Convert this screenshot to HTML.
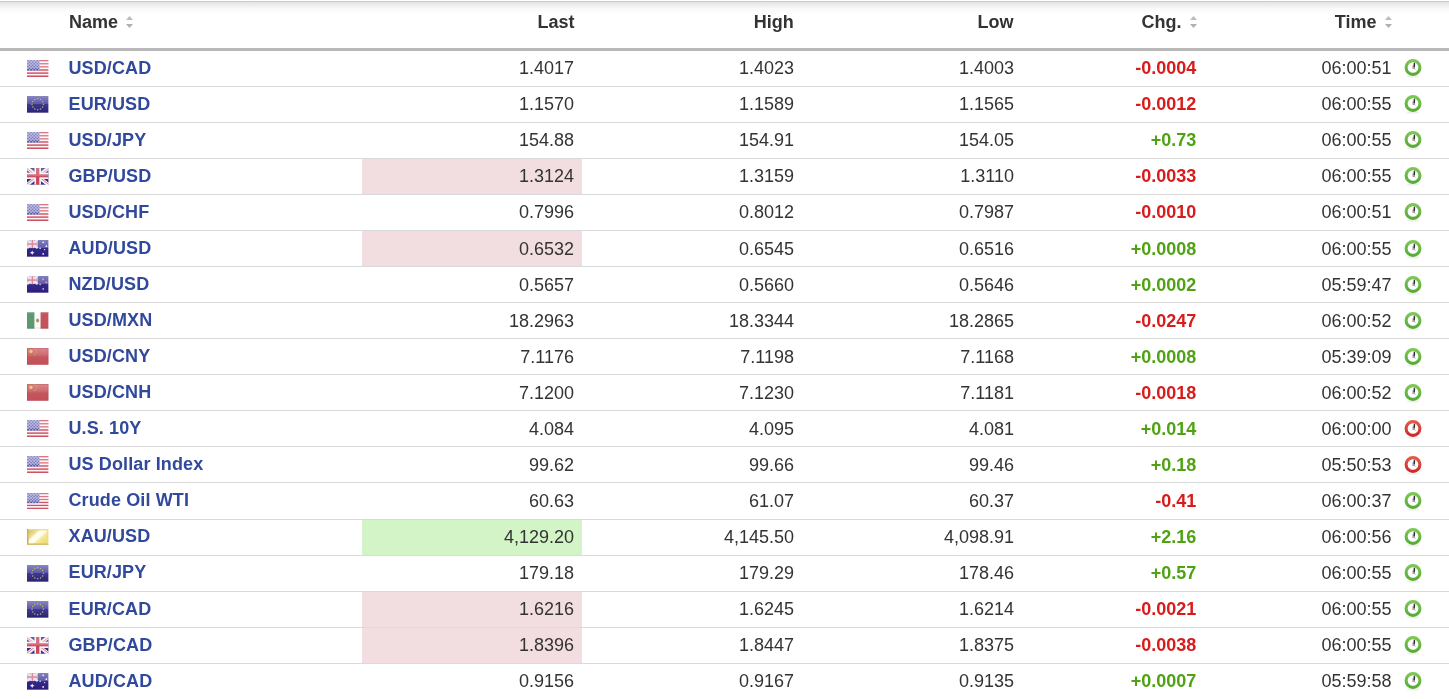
<!DOCTYPE html>
<html><head><meta charset="utf-8"><title>Quotes</title>
<style>
*{margin:0;padding:0;box-sizing:border-box}
html,body{width:1449px;height:699px;overflow:hidden;background:#fff}
body{position:relative;will-change:transform;font-family:"Liberation Sans",sans-serif;font-size:18px;color:#333}
.hdr{position:absolute;left:0;top:0;width:1449px;height:48px;background:linear-gradient(#fff 0,#fff 1px,#cbcbcb 1px,#cbcbcb 2px,#e3e3e3 2px,#f9f9f9 8.5px,#fdfdfd 13px,#fff 15px)}
.hb{position:absolute;left:0;top:48px;width:1449px;height:3px;background:#b8b8b8}
.ht{position:absolute;top:12px;height:21px;line-height:21px;font-weight:bold;color:#333;white-space:nowrap}
.sep{position:absolute;left:0;width:1449px;height:1px;background:#dadada}
.t{position:absolute;height:21px;line-height:21px;white-space:nowrap}
.r{text-align:right}
.nm{font-weight:bold;color:#31499c;letter-spacing:0.12px}
.red{color:#d91b1b;font-weight:bold}
.grn{color:#4fa312;font-weight:bold}
.hl{position:absolute;left:362px;width:220px}
.pk{background:#f2dee0}
.gn{background:#d2f4c6}
.fl,.ck,.srt{position:absolute;display:block}
</style></head><body>
<div class="hdr"></div><div class="hb"></div>

<div class="ht" style="left:69px">Name</div>
<svg class="srt" style="left:126px;top:15.5px" width="7" height="13" viewBox="0 0 7 13"><path d="M3.5,0 L7,4 L0,4 Z" fill="#bdbdbd"/><path d="M0,8 L7,8 L3.5,12 Z" fill="#b0b0b0"/></svg>
<div class="ht r" style="left:274.5px;width:300px;top:12px">Last</div>
<div class="ht r" style="left:493.70000000000005px;width:300px;top:12px">High</div>
<div class="ht r" style="left:713.6px;width:300px;top:12px">Low</div>
<div class="ht r" style="left:881.5px;width:300px;top:12px">Chg.</div>
<svg class="srt" style="left:1189.5px;top:15.5px" width="7" height="13" viewBox="0 0 7 13"><path d="M3.5,0 L7,4 L0,4 Z" fill="#bdbdbd"/><path d="M0,8 L7,8 L3.5,12 Z" fill="#b0b0b0"/></svg>
<div class="ht r" style="left:1076.5px;width:300px;top:12px">Time</div>
<svg class="srt" style="left:1384.5px;top:15.5px" width="7" height="13" viewBox="0 0 7 13"><path d="M3.5,0 L7,4 L0,4 Z" fill="#bdbdbd"/><path d="M0,8 L7,8 L3.5,12 Z" fill="#b0b0b0"/></svg>
<svg class="fl" style="left:27.2px;top:60px" width="21.4" height="17" viewBox="0 0 21 17" preserveAspectRatio="none"><rect x="0" y="0.000" width="21" height="1.565" fill="#cf5262"/><rect x="0" y="1.545" width="21" height="1.565" fill="#fbf5f6"/><rect x="0" y="3.091" width="21" height="1.565" fill="#cf5262"/><rect x="0" y="4.636" width="21" height="1.565" fill="#fbf5f6"/><rect x="0" y="6.182" width="21" height="1.565" fill="#cf5262"/><rect x="0" y="7.727" width="21" height="1.565" fill="#fbf5f6"/><rect x="0" y="9.273" width="21" height="1.565" fill="#cf5262"/><rect x="0" y="10.818" width="21" height="1.565" fill="#fbf5f6"/><rect x="0" y="12.364" width="21" height="1.565" fill="#cf5262"/><rect x="0" y="13.909" width="21" height="1.565" fill="#fbf5f6"/><rect x="0" y="15.455" width="21" height="1.565" fill="#cf5262"/><rect x="0" y="0" width="11.9" height="10.8" fill="#aaaad6"/><circle cx="1.00" cy="0.75" r="0.8" fill="#6666b8"/><circle cx="4.00" cy="0.75" r="0.8" fill="#6666b8"/><circle cx="7.00" cy="0.75" r="0.8" fill="#6666b8"/><circle cx="10.00" cy="0.75" r="0.8" fill="#6666b8"/><circle cx="2.50" cy="2.25" r="0.8" fill="#5e5eb3"/><circle cx="5.50" cy="2.25" r="0.8" fill="#5e5eb3"/><circle cx="8.50" cy="2.25" r="0.8" fill="#5e5eb3"/><circle cx="11.50" cy="2.25" r="0.8" fill="#5e5eb3"/><circle cx="1.00" cy="3.75" r="0.8" fill="#5757ae"/><circle cx="4.00" cy="3.75" r="0.8" fill="#5757ae"/><circle cx="7.00" cy="3.75" r="0.8" fill="#5757ae"/><circle cx="10.00" cy="3.75" r="0.8" fill="#5757ae"/><circle cx="2.50" cy="5.25" r="0.8" fill="#5050aa"/><circle cx="5.50" cy="5.25" r="0.8" fill="#5050aa"/><circle cx="8.50" cy="5.25" r="0.8" fill="#5050aa"/><circle cx="11.50" cy="5.25" r="0.8" fill="#5050aa"/><circle cx="1.00" cy="6.75" r="0.8" fill="#4848a5"/><circle cx="4.00" cy="6.75" r="0.8" fill="#4848a5"/><circle cx="7.00" cy="6.75" r="0.8" fill="#4848a5"/><circle cx="10.00" cy="6.75" r="0.8" fill="#4848a5"/><circle cx="2.50" cy="8.25" r="0.8" fill="#4141a0"/><circle cx="5.50" cy="8.25" r="0.8" fill="#4141a0"/><circle cx="8.50" cy="8.25" r="0.8" fill="#4141a0"/><circle cx="11.50" cy="8.25" r="0.8" fill="#4141a0"/><circle cx="1.00" cy="9.75" r="0.8" fill="#3a3a9c"/><circle cx="4.00" cy="9.75" r="0.8" fill="#3a3a9c"/><circle cx="7.00" cy="9.75" r="0.8" fill="#3a3a9c"/><circle cx="10.00" cy="9.75" r="0.8" fill="#3a3a9c"/><rect x="0" y="0" width="21" height="8.50" fill="#fff" opacity="0.22"/></svg>
<div class="t nm" style="left:68.5px;top:58px">USD/CAD</div>
<div class="t r" style="left:274px;width:300px;top:58px">1.4017</div>
<div class="t r" style="left:494px;width:300px;top:58px">1.4023</div>
<div class="t r" style="left:714px;width:300px;top:58px">1.4003</div>
<div class="t r red" style="left:896.3px;width:300px;top:58px">-0.0004</div>
<div class="t r" style="left:1091.5px;width:300px;top:58px">06:00:51</div>
<svg class="ck" style="left:1403.2px;top:58.3px" width="20" height="21" viewBox="0 0 20 21"><defs><linearGradient id="ckg" x1="0" y1="0" x2="0" y2="1"><stop offset="0" stop-color="#7cc656"/><stop offset="1" stop-color="#58ac34"/></linearGradient></defs><ellipse cx="10" cy="18.3" rx="6.5" ry="1.3" fill="#000" opacity="0.07"/><circle cx="10" cy="9.5" r="6.9" fill="#fff" stroke="url(#ckg)" stroke-width="3.1"/><path d="M10.2,7.2 L10,11" stroke="#a8a8a8" stroke-width="1.4" fill="none"/><path d="M11.3,8 L11.3,11" stroke="#808080" stroke-width="1.2" fill="none"/><path d="M12,10.8 L13,11.8" stroke="#c0c0c0" stroke-width="1" fill="none"/><path d="M11.4,5.6 L11.3,8.2" stroke="#2e2e2e" stroke-width="1.5" fill="none" stroke-linecap="round"/></svg>
<div class="sep" style="top:86px"></div>
<svg class="fl" style="left:27.2px;top:96px" width="21.4" height="16.7" viewBox="0 0 21 17" preserveAspectRatio="none"><defs><linearGradient id="geu" x1="0" y1="0" x2="0" y2="1"><stop offset="0" stop-color="#8a87c0"/><stop offset="0.45" stop-color="#5e5aa8"/><stop offset="0.5" stop-color="#3e3890"/><stop offset="1" stop-color="#2a2474"/></linearGradient></defs><rect width="21" height="17" fill="url(#geu)"/><circle cx="16.10" cy="8.50" r="0.75" fill="#bcb474"/><circle cx="15.35" cy="11.30" r="0.75" fill="#bcb474"/><circle cx="13.30" cy="13.35" r="0.75" fill="#bcb474"/><circle cx="10.50" cy="14.10" r="0.75" fill="#bcb474"/><circle cx="7.70" cy="13.35" r="0.75" fill="#bcb474"/><circle cx="5.65" cy="11.30" r="0.75" fill="#bcb474"/><circle cx="4.90" cy="8.50" r="0.75" fill="#bcb474"/><circle cx="5.65" cy="5.70" r="0.75" fill="#bcb474"/><circle cx="7.70" cy="3.65" r="0.75" fill="#bcb474"/><circle cx="10.50" cy="2.90" r="0.75" fill="#bcb474"/><circle cx="13.30" cy="3.65" r="0.75" fill="#bcb474"/><circle cx="15.35" cy="5.70" r="0.75" fill="#bcb474"/></svg>
<div class="t nm" style="left:68.5px;top:94px">EUR/USD</div>
<div class="t r" style="left:274px;width:300px;top:94px">1.1570</div>
<div class="t r" style="left:494px;width:300px;top:94px">1.1589</div>
<div class="t r" style="left:714px;width:300px;top:94px">1.1565</div>
<div class="t r red" style="left:896.3px;width:300px;top:94px">-0.0012</div>
<div class="t r" style="left:1091.5px;width:300px;top:94px">06:00:55</div>
<svg class="ck" style="left:1403.2px;top:94.3px" width="20" height="21" viewBox="0 0 20 21"><defs><linearGradient id="ckg" x1="0" y1="0" x2="0" y2="1"><stop offset="0" stop-color="#7cc656"/><stop offset="1" stop-color="#58ac34"/></linearGradient></defs><ellipse cx="10" cy="18.3" rx="6.5" ry="1.3" fill="#000" opacity="0.07"/><circle cx="10" cy="9.5" r="6.9" fill="#fff" stroke="url(#ckg)" stroke-width="3.1"/><path d="M10.2,7.2 L10,11" stroke="#a8a8a8" stroke-width="1.4" fill="none"/><path d="M11.3,8 L11.3,11" stroke="#808080" stroke-width="1.2" fill="none"/><path d="M12,10.8 L13,11.8" stroke="#c0c0c0" stroke-width="1" fill="none"/><path d="M11.4,5.6 L11.3,8.2" stroke="#2e2e2e" stroke-width="1.5" fill="none" stroke-linecap="round"/></svg>
<div class="sep" style="top:122px"></div>
<svg class="fl" style="left:27.2px;top:132px" width="21.4" height="17" viewBox="0 0 21 17" preserveAspectRatio="none"><rect x="0" y="0.000" width="21" height="1.565" fill="#cf5262"/><rect x="0" y="1.545" width="21" height="1.565" fill="#fbf5f6"/><rect x="0" y="3.091" width="21" height="1.565" fill="#cf5262"/><rect x="0" y="4.636" width="21" height="1.565" fill="#fbf5f6"/><rect x="0" y="6.182" width="21" height="1.565" fill="#cf5262"/><rect x="0" y="7.727" width="21" height="1.565" fill="#fbf5f6"/><rect x="0" y="9.273" width="21" height="1.565" fill="#cf5262"/><rect x="0" y="10.818" width="21" height="1.565" fill="#fbf5f6"/><rect x="0" y="12.364" width="21" height="1.565" fill="#cf5262"/><rect x="0" y="13.909" width="21" height="1.565" fill="#fbf5f6"/><rect x="0" y="15.455" width="21" height="1.565" fill="#cf5262"/><rect x="0" y="0" width="11.9" height="10.8" fill="#aaaad6"/><circle cx="1.00" cy="0.75" r="0.8" fill="#6666b8"/><circle cx="4.00" cy="0.75" r="0.8" fill="#6666b8"/><circle cx="7.00" cy="0.75" r="0.8" fill="#6666b8"/><circle cx="10.00" cy="0.75" r="0.8" fill="#6666b8"/><circle cx="2.50" cy="2.25" r="0.8" fill="#5e5eb3"/><circle cx="5.50" cy="2.25" r="0.8" fill="#5e5eb3"/><circle cx="8.50" cy="2.25" r="0.8" fill="#5e5eb3"/><circle cx="11.50" cy="2.25" r="0.8" fill="#5e5eb3"/><circle cx="1.00" cy="3.75" r="0.8" fill="#5757ae"/><circle cx="4.00" cy="3.75" r="0.8" fill="#5757ae"/><circle cx="7.00" cy="3.75" r="0.8" fill="#5757ae"/><circle cx="10.00" cy="3.75" r="0.8" fill="#5757ae"/><circle cx="2.50" cy="5.25" r="0.8" fill="#5050aa"/><circle cx="5.50" cy="5.25" r="0.8" fill="#5050aa"/><circle cx="8.50" cy="5.25" r="0.8" fill="#5050aa"/><circle cx="11.50" cy="5.25" r="0.8" fill="#5050aa"/><circle cx="1.00" cy="6.75" r="0.8" fill="#4848a5"/><circle cx="4.00" cy="6.75" r="0.8" fill="#4848a5"/><circle cx="7.00" cy="6.75" r="0.8" fill="#4848a5"/><circle cx="10.00" cy="6.75" r="0.8" fill="#4848a5"/><circle cx="2.50" cy="8.25" r="0.8" fill="#4141a0"/><circle cx="5.50" cy="8.25" r="0.8" fill="#4141a0"/><circle cx="8.50" cy="8.25" r="0.8" fill="#4141a0"/><circle cx="11.50" cy="8.25" r="0.8" fill="#4141a0"/><circle cx="1.00" cy="9.75" r="0.8" fill="#3a3a9c"/><circle cx="4.00" cy="9.75" r="0.8" fill="#3a3a9c"/><circle cx="7.00" cy="9.75" r="0.8" fill="#3a3a9c"/><circle cx="10.00" cy="9.75" r="0.8" fill="#3a3a9c"/><rect x="0" y="0" width="21" height="8.50" fill="#fff" opacity="0.22"/></svg>
<div class="t nm" style="left:68.5px;top:130px">USD/JPY</div>
<div class="t r" style="left:274px;width:300px;top:130px">154.88</div>
<div class="t r" style="left:494px;width:300px;top:130px">154.91</div>
<div class="t r" style="left:714px;width:300px;top:130px">154.05</div>
<div class="t r grn" style="left:896.3px;width:300px;top:130px">+0.73</div>
<div class="t r" style="left:1091.5px;width:300px;top:130px">06:00:55</div>
<svg class="ck" style="left:1403.2px;top:130.3px" width="20" height="21" viewBox="0 0 20 21"><defs><linearGradient id="ckg" x1="0" y1="0" x2="0" y2="1"><stop offset="0" stop-color="#7cc656"/><stop offset="1" stop-color="#58ac34"/></linearGradient></defs><ellipse cx="10" cy="18.3" rx="6.5" ry="1.3" fill="#000" opacity="0.07"/><circle cx="10" cy="9.5" r="6.9" fill="#fff" stroke="url(#ckg)" stroke-width="3.1"/><path d="M10.2,7.2 L10,11" stroke="#a8a8a8" stroke-width="1.4" fill="none"/><path d="M11.3,8 L11.3,11" stroke="#808080" stroke-width="1.2" fill="none"/><path d="M12,10.8 L13,11.8" stroke="#c0c0c0" stroke-width="1" fill="none"/><path d="M11.4,5.6 L11.3,8.2" stroke="#2e2e2e" stroke-width="1.5" fill="none" stroke-linecap="round"/></svg>
<div class="sep" style="top:158px"></div>
<div class="hl pk" style="top:159px;height:35px"></div>
<svg class="fl" style="left:27.2px;top:168px" width="21.4" height="16.7" viewBox="0 0 21 17" preserveAspectRatio="none"><rect width="21" height="17" fill="#32308a"/><path d="M0,0 L21,17 M21,0 L0,17" stroke="#f4eef2" stroke-width="3.6"/><path d="M0,0.6 L10.5,9 M21,0.6 L10.5,9 M0,16.4 L10.5,8 M21,16.4 L10.5,8" stroke="#d87080" stroke-width="0.9"/><rect x="7.3" y="0" width="6.4" height="17" fill="#f6f2f4"/><rect x="0" y="4.8" width="21" height="6.4" fill="#f6f2f4"/><rect x="8.9" y="0" width="3.2" height="17" fill="#c84458"/><rect x="0" y="6.4" width="21" height="3.1" fill="#c84458"/><rect x="0" y="0" width="21" height="8.50" fill="#fff" opacity="0.22"/></svg>
<div class="t nm" style="left:68.5px;top:166px">GBP/USD</div>
<div class="t r" style="left:274px;width:300px;top:166px">1.3124</div>
<div class="t r" style="left:494px;width:300px;top:166px">1.3159</div>
<div class="t r" style="left:714px;width:300px;top:166px">1.3110</div>
<div class="t r red" style="left:896.3px;width:300px;top:166px">-0.0033</div>
<div class="t r" style="left:1091.5px;width:300px;top:166px">06:00:55</div>
<svg class="ck" style="left:1403.2px;top:166.3px" width="20" height="21" viewBox="0 0 20 21"><defs><linearGradient id="ckg" x1="0" y1="0" x2="0" y2="1"><stop offset="0" stop-color="#7cc656"/><stop offset="1" stop-color="#58ac34"/></linearGradient></defs><ellipse cx="10" cy="18.3" rx="6.5" ry="1.3" fill="#000" opacity="0.07"/><circle cx="10" cy="9.5" r="6.9" fill="#fff" stroke="url(#ckg)" stroke-width="3.1"/><path d="M10.2,7.2 L10,11" stroke="#a8a8a8" stroke-width="1.4" fill="none"/><path d="M11.3,8 L11.3,11" stroke="#808080" stroke-width="1.2" fill="none"/><path d="M12,10.8 L13,11.8" stroke="#c0c0c0" stroke-width="1" fill="none"/><path d="M11.4,5.6 L11.3,8.2" stroke="#2e2e2e" stroke-width="1.5" fill="none" stroke-linecap="round"/></svg>
<div class="sep" style="top:194px"></div>
<svg class="fl" style="left:27.2px;top:204px" width="21.4" height="17" viewBox="0 0 21 17" preserveAspectRatio="none"><rect x="0" y="0.000" width="21" height="1.565" fill="#cf5262"/><rect x="0" y="1.545" width="21" height="1.565" fill="#fbf5f6"/><rect x="0" y="3.091" width="21" height="1.565" fill="#cf5262"/><rect x="0" y="4.636" width="21" height="1.565" fill="#fbf5f6"/><rect x="0" y="6.182" width="21" height="1.565" fill="#cf5262"/><rect x="0" y="7.727" width="21" height="1.565" fill="#fbf5f6"/><rect x="0" y="9.273" width="21" height="1.565" fill="#cf5262"/><rect x="0" y="10.818" width="21" height="1.565" fill="#fbf5f6"/><rect x="0" y="12.364" width="21" height="1.565" fill="#cf5262"/><rect x="0" y="13.909" width="21" height="1.565" fill="#fbf5f6"/><rect x="0" y="15.455" width="21" height="1.565" fill="#cf5262"/><rect x="0" y="0" width="11.9" height="10.8" fill="#aaaad6"/><circle cx="1.00" cy="0.75" r="0.8" fill="#6666b8"/><circle cx="4.00" cy="0.75" r="0.8" fill="#6666b8"/><circle cx="7.00" cy="0.75" r="0.8" fill="#6666b8"/><circle cx="10.00" cy="0.75" r="0.8" fill="#6666b8"/><circle cx="2.50" cy="2.25" r="0.8" fill="#5e5eb3"/><circle cx="5.50" cy="2.25" r="0.8" fill="#5e5eb3"/><circle cx="8.50" cy="2.25" r="0.8" fill="#5e5eb3"/><circle cx="11.50" cy="2.25" r="0.8" fill="#5e5eb3"/><circle cx="1.00" cy="3.75" r="0.8" fill="#5757ae"/><circle cx="4.00" cy="3.75" r="0.8" fill="#5757ae"/><circle cx="7.00" cy="3.75" r="0.8" fill="#5757ae"/><circle cx="10.00" cy="3.75" r="0.8" fill="#5757ae"/><circle cx="2.50" cy="5.25" r="0.8" fill="#5050aa"/><circle cx="5.50" cy="5.25" r="0.8" fill="#5050aa"/><circle cx="8.50" cy="5.25" r="0.8" fill="#5050aa"/><circle cx="11.50" cy="5.25" r="0.8" fill="#5050aa"/><circle cx="1.00" cy="6.75" r="0.8" fill="#4848a5"/><circle cx="4.00" cy="6.75" r="0.8" fill="#4848a5"/><circle cx="7.00" cy="6.75" r="0.8" fill="#4848a5"/><circle cx="10.00" cy="6.75" r="0.8" fill="#4848a5"/><circle cx="2.50" cy="8.25" r="0.8" fill="#4141a0"/><circle cx="5.50" cy="8.25" r="0.8" fill="#4141a0"/><circle cx="8.50" cy="8.25" r="0.8" fill="#4141a0"/><circle cx="11.50" cy="8.25" r="0.8" fill="#4141a0"/><circle cx="1.00" cy="9.75" r="0.8" fill="#3a3a9c"/><circle cx="4.00" cy="9.75" r="0.8" fill="#3a3a9c"/><circle cx="7.00" cy="9.75" r="0.8" fill="#3a3a9c"/><circle cx="10.00" cy="9.75" r="0.8" fill="#3a3a9c"/><rect x="0" y="0" width="21" height="8.50" fill="#fff" opacity="0.22"/></svg>
<div class="t nm" style="left:68.5px;top:202px">USD/CHF</div>
<div class="t r" style="left:274px;width:300px;top:202px">0.7996</div>
<div class="t r" style="left:494px;width:300px;top:202px">0.8012</div>
<div class="t r" style="left:714px;width:300px;top:202px">0.7987</div>
<div class="t r red" style="left:896.3px;width:300px;top:202px">-0.0010</div>
<div class="t r" style="left:1091.5px;width:300px;top:202px">06:00:51</div>
<svg class="ck" style="left:1403.2px;top:202.3px" width="20" height="21" viewBox="0 0 20 21"><defs><linearGradient id="ckg" x1="0" y1="0" x2="0" y2="1"><stop offset="0" stop-color="#7cc656"/><stop offset="1" stop-color="#58ac34"/></linearGradient></defs><ellipse cx="10" cy="18.3" rx="6.5" ry="1.3" fill="#000" opacity="0.07"/><circle cx="10" cy="9.5" r="6.9" fill="#fff" stroke="url(#ckg)" stroke-width="3.1"/><path d="M10.2,7.2 L10,11" stroke="#a8a8a8" stroke-width="1.4" fill="none"/><path d="M11.3,8 L11.3,11" stroke="#808080" stroke-width="1.2" fill="none"/><path d="M12,10.8 L13,11.8" stroke="#c0c0c0" stroke-width="1" fill="none"/><path d="M11.4,5.6 L11.3,8.2" stroke="#2e2e2e" stroke-width="1.5" fill="none" stroke-linecap="round"/></svg>
<div class="sep" style="top:230px"></div>
<div class="hl pk" style="top:231px;height:35px"></div>
<svg class="fl" style="left:27.2px;top:240px" width="21.4" height="16.7" viewBox="0 0 21 17" preserveAspectRatio="none"><defs><linearGradient id="gau" x1="0" y1="0" x2="0" y2="1"><stop offset="0" stop-color="#8480bc"/><stop offset="0.45" stop-color="#625eac"/><stop offset="0.5" stop-color="#34298a"/><stop offset="1" stop-color="#2a1f7a"/></linearGradient></defs><rect width="21" height="17" fill="url(#gau)"/><rect width="10.5" height="8.2" fill="#b8b0d8"/><path d="M0,0 L10.5,8.2 M10.5,0 L0,8.2" stroke="#efe6ee" stroke-width="2.2"/><rect x="3.6" y="0" width="3.3" height="8.2" fill="#f0e4ea"/><rect x="0" y="2.6" width="10.5" height="3" fill="#f0e4ea"/><rect x="4.6" y="0" width="1.4" height="8.2" fill="#dc8896"/><rect x="0" y="3.4" width="10.5" height="1.5" fill="#dc8896"/><path d="M5.1,10.6 L5.8,12.3 L7.4,13 L5.8,13.7 L5.1,15.4 L4.4,13.7 L2.8,13 L4.4,12.3 Z" fill="#f2f0fa"/><circle cx="15.9" cy="2.4" r="0.9" fill="#eeecf8"/><circle cx="19" cy="6.3" r="0.9" fill="#eeecf8"/><circle cx="12.9" cy="8.4" r="0.8" fill="#eeecf8"/><circle cx="17.3" cy="9.8" r="0.7" fill="#eeecf8"/><circle cx="15.9" cy="14.2" r="0.9" fill="#eeecf8"/></svg>
<div class="t nm" style="left:68.5px;top:238px">AUD/USD</div>
<div class="t r" style="left:274px;width:300px;top:239px">0.6532</div>
<div class="t r" style="left:494px;width:300px;top:239px">0.6545</div>
<div class="t r" style="left:714px;width:300px;top:239px">0.6516</div>
<div class="t r grn" style="left:896.3px;width:300px;top:239px">+0.0008</div>
<div class="t r" style="left:1091.5px;width:300px;top:239px">06:00:55</div>
<svg class="ck" style="left:1403.2px;top:239.3px" width="20" height="21" viewBox="0 0 20 21"><defs><linearGradient id="ckg" x1="0" y1="0" x2="0" y2="1"><stop offset="0" stop-color="#7cc656"/><stop offset="1" stop-color="#58ac34"/></linearGradient></defs><ellipse cx="10" cy="18.3" rx="6.5" ry="1.3" fill="#000" opacity="0.07"/><circle cx="10" cy="9.5" r="6.9" fill="#fff" stroke="url(#ckg)" stroke-width="3.1"/><path d="M10.2,7.2 L10,11" stroke="#a8a8a8" stroke-width="1.4" fill="none"/><path d="M11.3,8 L11.3,11" stroke="#808080" stroke-width="1.2" fill="none"/><path d="M12,10.8 L13,11.8" stroke="#c0c0c0" stroke-width="1" fill="none"/><path d="M11.4,5.6 L11.3,8.2" stroke="#2e2e2e" stroke-width="1.5" fill="none" stroke-linecap="round"/></svg>
<div class="sep" style="top:266px"></div>
<svg class="fl" style="left:27.2px;top:276px" width="21.4" height="16.7" viewBox="0 0 21 17" preserveAspectRatio="none"><defs><linearGradient id="gnz" x1="0" y1="0" x2="0" y2="1"><stop offset="0" stop-color="#8480bc"/><stop offset="0.45" stop-color="#625eac"/><stop offset="0.5" stop-color="#34298a"/><stop offset="1" stop-color="#2a1f7a"/></linearGradient></defs><rect width="21" height="17" fill="url(#gnz)"/><rect width="10.5" height="8.2" fill="#b8b0d8"/><path d="M0,0 L10.5,8.2 M10.5,0 L0,8.2" stroke="#efe6ee" stroke-width="2.2"/><rect x="3.6" y="0" width="3.3" height="8.2" fill="#f0e4ea"/><rect x="0" y="2.6" width="10.5" height="3" fill="#f0e4ea"/><rect x="4.6" y="0" width="1.4" height="8.2" fill="#dc8896"/><rect x="0" y="3.4" width="10.5" height="1.5" fill="#dc8896"/><circle cx="15.9" cy="3.4" r="0.9" fill="#e0a8bc"/><circle cx="19.0" cy="6.4" r="0.9" fill="#e0a8bc"/><circle cx="12.9" cy="8.5" r="0.9" fill="#e0a8bc"/><circle cx="15.9" cy="13.2" r="0.9" fill="#e0a8bc"/></svg>
<div class="t nm" style="left:68.5px;top:274px">NZD/USD</div>
<div class="t r" style="left:274px;width:300px;top:275px">0.5657</div>
<div class="t r" style="left:494px;width:300px;top:275px">0.5660</div>
<div class="t r" style="left:714px;width:300px;top:275px">0.5646</div>
<div class="t r grn" style="left:896.3px;width:300px;top:275px">+0.0002</div>
<div class="t r" style="left:1091.5px;width:300px;top:275px">05:59:47</div>
<svg class="ck" style="left:1403.2px;top:275.3px" width="20" height="21" viewBox="0 0 20 21"><defs><linearGradient id="ckg" x1="0" y1="0" x2="0" y2="1"><stop offset="0" stop-color="#7cc656"/><stop offset="1" stop-color="#58ac34"/></linearGradient></defs><ellipse cx="10" cy="18.3" rx="6.5" ry="1.3" fill="#000" opacity="0.07"/><circle cx="10" cy="9.5" r="6.9" fill="#fff" stroke="url(#ckg)" stroke-width="3.1"/><path d="M10.2,7.2 L10,11" stroke="#a8a8a8" stroke-width="1.4" fill="none"/><path d="M11.3,8 L11.3,11" stroke="#808080" stroke-width="1.2" fill="none"/><path d="M12,10.8 L13,11.8" stroke="#c0c0c0" stroke-width="1" fill="none"/><path d="M11.4,5.6 L11.3,8.2" stroke="#2e2e2e" stroke-width="1.5" fill="none" stroke-linecap="round"/></svg>
<div class="sep" style="top:302px"></div>
<svg class="fl" style="left:27.2px;top:312px" width="21.4" height="16.7" viewBox="0 0 21 17" preserveAspectRatio="none"><rect x="0" y="0" width="7.5" height="17" fill="#5e9870"/><rect x="7.5" y="0" width="5.8" height="17" fill="#fbfbfb"/><rect x="13.3" y="0" width="7.7" height="17" fill="#c4545c"/><ellipse cx="10.4" cy="8.6" rx="1.6" ry="2.0" fill="#b09868"/><rect x="0" y="0" width="21" height="1.2" fill="#fff" opacity="0.3"/><rect x="0" y="15.8" width="21" height="1.2" fill="#000" opacity="0.08"/></svg>
<div class="t nm" style="left:68.5px;top:310px">USD/MXN</div>
<div class="t r" style="left:274px;width:300px;top:311px">18.2963</div>
<div class="t r" style="left:494px;width:300px;top:311px">18.3344</div>
<div class="t r" style="left:714px;width:300px;top:311px">18.2865</div>
<div class="t r red" style="left:896.3px;width:300px;top:311px">-0.0247</div>
<div class="t r" style="left:1091.5px;width:300px;top:311px">06:00:52</div>
<svg class="ck" style="left:1403.2px;top:311.3px" width="20" height="21" viewBox="0 0 20 21"><defs><linearGradient id="ckg" x1="0" y1="0" x2="0" y2="1"><stop offset="0" stop-color="#7cc656"/><stop offset="1" stop-color="#58ac34"/></linearGradient></defs><ellipse cx="10" cy="18.3" rx="6.5" ry="1.3" fill="#000" opacity="0.07"/><circle cx="10" cy="9.5" r="6.9" fill="#fff" stroke="url(#ckg)" stroke-width="3.1"/><path d="M10.2,7.2 L10,11" stroke="#a8a8a8" stroke-width="1.4" fill="none"/><path d="M11.3,8 L11.3,11" stroke="#808080" stroke-width="1.2" fill="none"/><path d="M12,10.8 L13,11.8" stroke="#c0c0c0" stroke-width="1" fill="none"/><path d="M11.4,5.6 L11.3,8.2" stroke="#2e2e2e" stroke-width="1.5" fill="none" stroke-linecap="round"/></svg>
<div class="sep" style="top:338px"></div>
<svg class="fl" style="left:27.2px;top:348px" width="21.4" height="16.7" viewBox="0 0 21 17" preserveAspectRatio="none"><defs><linearGradient id="gcn" x1="0" y1="0" x2="0" y2="1"><stop offset="0" stop-color="#d88890"/><stop offset="0.4" stop-color="#d06c74"/><stop offset="0.55" stop-color="#c5565e"/><stop offset="1" stop-color="#c25058"/></linearGradient></defs><rect width="21" height="17" fill="url(#gcn)"/><circle cx="3.9" cy="3.5" r="1.6" fill="#e8d46c"/><circle cx="7.4" cy="0.8" r="0.55" fill="#dcb66e"/><circle cx="8.9" cy="2.4" r="0.55" fill="#dcb66e"/><circle cx="8.9" cy="4.8" r="0.55" fill="#dcb66e"/><circle cx="7.4" cy="6.4" r="0.55" fill="#dcb66e"/><rect x="0.3" y="0.3" width="20.4" height="16.4" fill="none" stroke="#a83c46" stroke-width="0.6" opacity="0.45"/></svg>
<div class="t nm" style="left:68.5px;top:346px">USD/CNY</div>
<div class="t r" style="left:274px;width:300px;top:347px">7.1176</div>
<div class="t r" style="left:494px;width:300px;top:347px">7.1198</div>
<div class="t r" style="left:714px;width:300px;top:347px">7.1168</div>
<div class="t r grn" style="left:896.3px;width:300px;top:347px">+0.0008</div>
<div class="t r" style="left:1091.5px;width:300px;top:347px">05:39:09</div>
<svg class="ck" style="left:1403.2px;top:347.3px" width="20" height="21" viewBox="0 0 20 21"><defs><linearGradient id="ckg" x1="0" y1="0" x2="0" y2="1"><stop offset="0" stop-color="#7cc656"/><stop offset="1" stop-color="#58ac34"/></linearGradient></defs><ellipse cx="10" cy="18.3" rx="6.5" ry="1.3" fill="#000" opacity="0.07"/><circle cx="10" cy="9.5" r="6.9" fill="#fff" stroke="url(#ckg)" stroke-width="3.1"/><path d="M10.2,7.2 L10,11" stroke="#a8a8a8" stroke-width="1.4" fill="none"/><path d="M11.3,8 L11.3,11" stroke="#808080" stroke-width="1.2" fill="none"/><path d="M12,10.8 L13,11.8" stroke="#c0c0c0" stroke-width="1" fill="none"/><path d="M11.4,5.6 L11.3,8.2" stroke="#2e2e2e" stroke-width="1.5" fill="none" stroke-linecap="round"/></svg>
<div class="sep" style="top:374px"></div>
<svg class="fl" style="left:27.2px;top:384px" width="21.4" height="16.7" viewBox="0 0 21 17" preserveAspectRatio="none"><defs><linearGradient id="gcn" x1="0" y1="0" x2="0" y2="1"><stop offset="0" stop-color="#d88890"/><stop offset="0.4" stop-color="#d06c74"/><stop offset="0.55" stop-color="#c5565e"/><stop offset="1" stop-color="#c25058"/></linearGradient></defs><rect width="21" height="17" fill="url(#gcn)"/><circle cx="3.9" cy="3.5" r="1.6" fill="#e8d46c"/><circle cx="7.4" cy="0.8" r="0.55" fill="#dcb66e"/><circle cx="8.9" cy="2.4" r="0.55" fill="#dcb66e"/><circle cx="8.9" cy="4.8" r="0.55" fill="#dcb66e"/><circle cx="7.4" cy="6.4" r="0.55" fill="#dcb66e"/><rect x="0.3" y="0.3" width="20.4" height="16.4" fill="none" stroke="#a83c46" stroke-width="0.6" opacity="0.45"/></svg>
<div class="t nm" style="left:68.5px;top:382px">USD/CNH</div>
<div class="t r" style="left:274px;width:300px;top:383px">7.1200</div>
<div class="t r" style="left:494px;width:300px;top:383px">7.1230</div>
<div class="t r" style="left:714px;width:300px;top:383px">7.1181</div>
<div class="t r red" style="left:896.3px;width:300px;top:383px">-0.0018</div>
<div class="t r" style="left:1091.5px;width:300px;top:383px">06:00:52</div>
<svg class="ck" style="left:1403.2px;top:383.3px" width="20" height="21" viewBox="0 0 20 21"><defs><linearGradient id="ckg" x1="0" y1="0" x2="0" y2="1"><stop offset="0" stop-color="#7cc656"/><stop offset="1" stop-color="#58ac34"/></linearGradient></defs><ellipse cx="10" cy="18.3" rx="6.5" ry="1.3" fill="#000" opacity="0.07"/><circle cx="10" cy="9.5" r="6.9" fill="#fff" stroke="url(#ckg)" stroke-width="3.1"/><path d="M10.2,7.2 L10,11" stroke="#a8a8a8" stroke-width="1.4" fill="none"/><path d="M11.3,8 L11.3,11" stroke="#808080" stroke-width="1.2" fill="none"/><path d="M12,10.8 L13,11.8" stroke="#c0c0c0" stroke-width="1" fill="none"/><path d="M11.4,5.6 L11.3,8.2" stroke="#2e2e2e" stroke-width="1.5" fill="none" stroke-linecap="round"/></svg>
<div class="sep" style="top:410px"></div>
<svg class="fl" style="left:27.2px;top:420px" width="21.4" height="17" viewBox="0 0 21 17" preserveAspectRatio="none"><rect x="0" y="0.000" width="21" height="1.565" fill="#cf5262"/><rect x="0" y="1.545" width="21" height="1.565" fill="#fbf5f6"/><rect x="0" y="3.091" width="21" height="1.565" fill="#cf5262"/><rect x="0" y="4.636" width="21" height="1.565" fill="#fbf5f6"/><rect x="0" y="6.182" width="21" height="1.565" fill="#cf5262"/><rect x="0" y="7.727" width="21" height="1.565" fill="#fbf5f6"/><rect x="0" y="9.273" width="21" height="1.565" fill="#cf5262"/><rect x="0" y="10.818" width="21" height="1.565" fill="#fbf5f6"/><rect x="0" y="12.364" width="21" height="1.565" fill="#cf5262"/><rect x="0" y="13.909" width="21" height="1.565" fill="#fbf5f6"/><rect x="0" y="15.455" width="21" height="1.565" fill="#cf5262"/><rect x="0" y="0" width="11.9" height="10.8" fill="#aaaad6"/><circle cx="1.00" cy="0.75" r="0.8" fill="#6666b8"/><circle cx="4.00" cy="0.75" r="0.8" fill="#6666b8"/><circle cx="7.00" cy="0.75" r="0.8" fill="#6666b8"/><circle cx="10.00" cy="0.75" r="0.8" fill="#6666b8"/><circle cx="2.50" cy="2.25" r="0.8" fill="#5e5eb3"/><circle cx="5.50" cy="2.25" r="0.8" fill="#5e5eb3"/><circle cx="8.50" cy="2.25" r="0.8" fill="#5e5eb3"/><circle cx="11.50" cy="2.25" r="0.8" fill="#5e5eb3"/><circle cx="1.00" cy="3.75" r="0.8" fill="#5757ae"/><circle cx="4.00" cy="3.75" r="0.8" fill="#5757ae"/><circle cx="7.00" cy="3.75" r="0.8" fill="#5757ae"/><circle cx="10.00" cy="3.75" r="0.8" fill="#5757ae"/><circle cx="2.50" cy="5.25" r="0.8" fill="#5050aa"/><circle cx="5.50" cy="5.25" r="0.8" fill="#5050aa"/><circle cx="8.50" cy="5.25" r="0.8" fill="#5050aa"/><circle cx="11.50" cy="5.25" r="0.8" fill="#5050aa"/><circle cx="1.00" cy="6.75" r="0.8" fill="#4848a5"/><circle cx="4.00" cy="6.75" r="0.8" fill="#4848a5"/><circle cx="7.00" cy="6.75" r="0.8" fill="#4848a5"/><circle cx="10.00" cy="6.75" r="0.8" fill="#4848a5"/><circle cx="2.50" cy="8.25" r="0.8" fill="#4141a0"/><circle cx="5.50" cy="8.25" r="0.8" fill="#4141a0"/><circle cx="8.50" cy="8.25" r="0.8" fill="#4141a0"/><circle cx="11.50" cy="8.25" r="0.8" fill="#4141a0"/><circle cx="1.00" cy="9.75" r="0.8" fill="#3a3a9c"/><circle cx="4.00" cy="9.75" r="0.8" fill="#3a3a9c"/><circle cx="7.00" cy="9.75" r="0.8" fill="#3a3a9c"/><circle cx="10.00" cy="9.75" r="0.8" fill="#3a3a9c"/><rect x="0" y="0" width="21" height="8.50" fill="#fff" opacity="0.22"/></svg>
<div class="t nm" style="left:68.5px;top:418px">U.S. 10Y</div>
<div class="t r" style="left:274px;width:300px;top:419px">4.084</div>
<div class="t r" style="left:494px;width:300px;top:419px">4.095</div>
<div class="t r" style="left:714px;width:300px;top:419px">4.081</div>
<div class="t r grn" style="left:896.3px;width:300px;top:419px">+0.014</div>
<div class="t r" style="left:1091.5px;width:300px;top:419px">06:00:00</div>
<svg class="ck" style="left:1403.2px;top:419.3px" width="20" height="21" viewBox="0 0 20 21"><defs><linearGradient id="ckr" x1="0" y1="0" x2="0" y2="1"><stop offset="0" stop-color="#e65a4a"/><stop offset="1" stop-color="#cc2a2c"/></linearGradient></defs><ellipse cx="10" cy="18.3" rx="6.5" ry="1.3" fill="#000" opacity="0.07"/><circle cx="10" cy="9.5" r="6.9" fill="#fff" stroke="url(#ckr)" stroke-width="3.1"/><path d="M10.2,7.2 L10,11" stroke="#a8a8a8" stroke-width="1.4" fill="none"/><path d="M11.3,8 L11.3,11" stroke="#808080" stroke-width="1.2" fill="none"/><path d="M12,10.8 L13,11.8" stroke="#c0c0c0" stroke-width="1" fill="none"/><path d="M11.4,5.6 L11.3,8.2" stroke="#2e2e2e" stroke-width="1.5" fill="none" stroke-linecap="round"/></svg>
<div class="sep" style="top:446px"></div>
<svg class="fl" style="left:27.2px;top:456px" width="21.4" height="17" viewBox="0 0 21 17" preserveAspectRatio="none"><rect x="0" y="0.000" width="21" height="1.565" fill="#cf5262"/><rect x="0" y="1.545" width="21" height="1.565" fill="#fbf5f6"/><rect x="0" y="3.091" width="21" height="1.565" fill="#cf5262"/><rect x="0" y="4.636" width="21" height="1.565" fill="#fbf5f6"/><rect x="0" y="6.182" width="21" height="1.565" fill="#cf5262"/><rect x="0" y="7.727" width="21" height="1.565" fill="#fbf5f6"/><rect x="0" y="9.273" width="21" height="1.565" fill="#cf5262"/><rect x="0" y="10.818" width="21" height="1.565" fill="#fbf5f6"/><rect x="0" y="12.364" width="21" height="1.565" fill="#cf5262"/><rect x="0" y="13.909" width="21" height="1.565" fill="#fbf5f6"/><rect x="0" y="15.455" width="21" height="1.565" fill="#cf5262"/><rect x="0" y="0" width="11.9" height="10.8" fill="#aaaad6"/><circle cx="1.00" cy="0.75" r="0.8" fill="#6666b8"/><circle cx="4.00" cy="0.75" r="0.8" fill="#6666b8"/><circle cx="7.00" cy="0.75" r="0.8" fill="#6666b8"/><circle cx="10.00" cy="0.75" r="0.8" fill="#6666b8"/><circle cx="2.50" cy="2.25" r="0.8" fill="#5e5eb3"/><circle cx="5.50" cy="2.25" r="0.8" fill="#5e5eb3"/><circle cx="8.50" cy="2.25" r="0.8" fill="#5e5eb3"/><circle cx="11.50" cy="2.25" r="0.8" fill="#5e5eb3"/><circle cx="1.00" cy="3.75" r="0.8" fill="#5757ae"/><circle cx="4.00" cy="3.75" r="0.8" fill="#5757ae"/><circle cx="7.00" cy="3.75" r="0.8" fill="#5757ae"/><circle cx="10.00" cy="3.75" r="0.8" fill="#5757ae"/><circle cx="2.50" cy="5.25" r="0.8" fill="#5050aa"/><circle cx="5.50" cy="5.25" r="0.8" fill="#5050aa"/><circle cx="8.50" cy="5.25" r="0.8" fill="#5050aa"/><circle cx="11.50" cy="5.25" r="0.8" fill="#5050aa"/><circle cx="1.00" cy="6.75" r="0.8" fill="#4848a5"/><circle cx="4.00" cy="6.75" r="0.8" fill="#4848a5"/><circle cx="7.00" cy="6.75" r="0.8" fill="#4848a5"/><circle cx="10.00" cy="6.75" r="0.8" fill="#4848a5"/><circle cx="2.50" cy="8.25" r="0.8" fill="#4141a0"/><circle cx="5.50" cy="8.25" r="0.8" fill="#4141a0"/><circle cx="8.50" cy="8.25" r="0.8" fill="#4141a0"/><circle cx="11.50" cy="8.25" r="0.8" fill="#4141a0"/><circle cx="1.00" cy="9.75" r="0.8" fill="#3a3a9c"/><circle cx="4.00" cy="9.75" r="0.8" fill="#3a3a9c"/><circle cx="7.00" cy="9.75" r="0.8" fill="#3a3a9c"/><circle cx="10.00" cy="9.75" r="0.8" fill="#3a3a9c"/><rect x="0" y="0" width="21" height="8.50" fill="#fff" opacity="0.22"/></svg>
<div class="t nm" style="left:68.5px;top:454px">US Dollar Index</div>
<div class="t r" style="left:274px;width:300px;top:455px">99.62</div>
<div class="t r" style="left:494px;width:300px;top:455px">99.66</div>
<div class="t r" style="left:714px;width:300px;top:455px">99.46</div>
<div class="t r grn" style="left:896.3px;width:300px;top:455px">+0.18</div>
<div class="t r" style="left:1091.5px;width:300px;top:455px">05:50:53</div>
<svg class="ck" style="left:1403.2px;top:455.3px" width="20" height="21" viewBox="0 0 20 21"><defs><linearGradient id="ckr" x1="0" y1="0" x2="0" y2="1"><stop offset="0" stop-color="#e65a4a"/><stop offset="1" stop-color="#cc2a2c"/></linearGradient></defs><ellipse cx="10" cy="18.3" rx="6.5" ry="1.3" fill="#000" opacity="0.07"/><circle cx="10" cy="9.5" r="6.9" fill="#fff" stroke="url(#ckr)" stroke-width="3.1"/><path d="M10.2,7.2 L10,11" stroke="#a8a8a8" stroke-width="1.4" fill="none"/><path d="M11.3,8 L11.3,11" stroke="#808080" stroke-width="1.2" fill="none"/><path d="M12,10.8 L13,11.8" stroke="#c0c0c0" stroke-width="1" fill="none"/><path d="M11.4,5.6 L11.3,8.2" stroke="#2e2e2e" stroke-width="1.5" fill="none" stroke-linecap="round"/></svg>
<div class="sep" style="top:482px"></div>
<svg class="fl" style="left:27.2px;top:493px" width="21.4" height="16.2" viewBox="0 0 21 17" preserveAspectRatio="none"><rect x="0" y="0.000" width="21" height="1.565" fill="#cf5262"/><rect x="0" y="1.545" width="21" height="1.565" fill="#fbf5f6"/><rect x="0" y="3.091" width="21" height="1.565" fill="#cf5262"/><rect x="0" y="4.636" width="21" height="1.565" fill="#fbf5f6"/><rect x="0" y="6.182" width="21" height="1.565" fill="#cf5262"/><rect x="0" y="7.727" width="21" height="1.565" fill="#fbf5f6"/><rect x="0" y="9.273" width="21" height="1.565" fill="#cf5262"/><rect x="0" y="10.818" width="21" height="1.565" fill="#fbf5f6"/><rect x="0" y="12.364" width="21" height="1.565" fill="#cf5262"/><rect x="0" y="13.909" width="21" height="1.565" fill="#fbf5f6"/><rect x="0" y="15.455" width="21" height="1.565" fill="#cf5262"/><rect x="0" y="0" width="11.9" height="10.8" fill="#aaaad6"/><circle cx="1.00" cy="0.75" r="0.8" fill="#6666b8"/><circle cx="4.00" cy="0.75" r="0.8" fill="#6666b8"/><circle cx="7.00" cy="0.75" r="0.8" fill="#6666b8"/><circle cx="10.00" cy="0.75" r="0.8" fill="#6666b8"/><circle cx="2.50" cy="2.25" r="0.8" fill="#5e5eb3"/><circle cx="5.50" cy="2.25" r="0.8" fill="#5e5eb3"/><circle cx="8.50" cy="2.25" r="0.8" fill="#5e5eb3"/><circle cx="11.50" cy="2.25" r="0.8" fill="#5e5eb3"/><circle cx="1.00" cy="3.75" r="0.8" fill="#5757ae"/><circle cx="4.00" cy="3.75" r="0.8" fill="#5757ae"/><circle cx="7.00" cy="3.75" r="0.8" fill="#5757ae"/><circle cx="10.00" cy="3.75" r="0.8" fill="#5757ae"/><circle cx="2.50" cy="5.25" r="0.8" fill="#5050aa"/><circle cx="5.50" cy="5.25" r="0.8" fill="#5050aa"/><circle cx="8.50" cy="5.25" r="0.8" fill="#5050aa"/><circle cx="11.50" cy="5.25" r="0.8" fill="#5050aa"/><circle cx="1.00" cy="6.75" r="0.8" fill="#4848a5"/><circle cx="4.00" cy="6.75" r="0.8" fill="#4848a5"/><circle cx="7.00" cy="6.75" r="0.8" fill="#4848a5"/><circle cx="10.00" cy="6.75" r="0.8" fill="#4848a5"/><circle cx="2.50" cy="8.25" r="0.8" fill="#4141a0"/><circle cx="5.50" cy="8.25" r="0.8" fill="#4141a0"/><circle cx="8.50" cy="8.25" r="0.8" fill="#4141a0"/><circle cx="11.50" cy="8.25" r="0.8" fill="#4141a0"/><circle cx="1.00" cy="9.75" r="0.8" fill="#3a3a9c"/><circle cx="4.00" cy="9.75" r="0.8" fill="#3a3a9c"/><circle cx="7.00" cy="9.75" r="0.8" fill="#3a3a9c"/><circle cx="10.00" cy="9.75" r="0.8" fill="#3a3a9c"/><rect x="0" y="0" width="21" height="8.50" fill="#fff" opacity="0.22"/></svg>
<div class="t nm" style="left:68.5px;top:490px">Crude Oil WTI</div>
<div class="t r" style="left:274px;width:300px;top:491px">60.63</div>
<div class="t r" style="left:494px;width:300px;top:491px">61.07</div>
<div class="t r" style="left:714px;width:300px;top:491px">60.37</div>
<div class="t r red" style="left:896.3px;width:300px;top:491px">-0.41</div>
<div class="t r" style="left:1091.5px;width:300px;top:491px">06:00:37</div>
<svg class="ck" style="left:1403.2px;top:491.3px" width="20" height="21" viewBox="0 0 20 21"><defs><linearGradient id="ckg" x1="0" y1="0" x2="0" y2="1"><stop offset="0" stop-color="#7cc656"/><stop offset="1" stop-color="#58ac34"/></linearGradient></defs><ellipse cx="10" cy="18.3" rx="6.5" ry="1.3" fill="#000" opacity="0.07"/><circle cx="10" cy="9.5" r="6.9" fill="#fff" stroke="url(#ckg)" stroke-width="3.1"/><path d="M10.2,7.2 L10,11" stroke="#a8a8a8" stroke-width="1.4" fill="none"/><path d="M11.3,8 L11.3,11" stroke="#808080" stroke-width="1.2" fill="none"/><path d="M12,10.8 L13,11.8" stroke="#c0c0c0" stroke-width="1" fill="none"/><path d="M11.4,5.6 L11.3,8.2" stroke="#2e2e2e" stroke-width="1.5" fill="none" stroke-linecap="round"/></svg>
<div class="sep" style="top:519px"></div>
<div class="hl gn" style="top:520px;height:35px"></div>
<svg class="fl" style="left:27.2px;top:528.6px" width="21.4" height="16.1" viewBox="0 0 21 16" preserveAspectRatio="none"><defs><linearGradient id="gxau" x1="0" y1="0" x2="1" y2="0.75"><stop offset="0" stop-color="#d8bc58"/><stop offset="0.3" stop-color="#eedc98"/><stop offset="0.42" stop-color="#fffff2"/><stop offset="0.62" stop-color="#fffbe6"/><stop offset="0.72" stop-color="#f6e89c"/><stop offset="1" stop-color="#f0dc7c"/></linearGradient></defs><rect width="21" height="16" fill="#ecdc8c"/><rect x="1.4" y="1.4" width="18.4" height="13" fill="url(#gxau)"/><rect x="0" y="0" width="1.4" height="16" fill="#c8b05a"/><rect x="0" y="14.4" width="21" height="1.6" fill="#d4c070"/></svg>
<div class="t nm" style="left:68.5px;top:526px">XAU/USD</div>
<div class="t r" style="left:274px;width:300px;top:527px">4,129.20</div>
<div class="t r" style="left:494px;width:300px;top:527px">4,145.50</div>
<div class="t r" style="left:714px;width:300px;top:527px">4,098.91</div>
<div class="t r grn" style="left:896.3px;width:300px;top:527px">+2.16</div>
<div class="t r" style="left:1091.5px;width:300px;top:527px">06:00:56</div>
<svg class="ck" style="left:1403.2px;top:527.3px" width="20" height="21" viewBox="0 0 20 21"><defs><linearGradient id="ckg" x1="0" y1="0" x2="0" y2="1"><stop offset="0" stop-color="#7cc656"/><stop offset="1" stop-color="#58ac34"/></linearGradient></defs><ellipse cx="10" cy="18.3" rx="6.5" ry="1.3" fill="#000" opacity="0.07"/><circle cx="10" cy="9.5" r="6.9" fill="#fff" stroke="url(#ckg)" stroke-width="3.1"/><path d="M10.2,7.2 L10,11" stroke="#a8a8a8" stroke-width="1.4" fill="none"/><path d="M11.3,8 L11.3,11" stroke="#808080" stroke-width="1.2" fill="none"/><path d="M12,10.8 L13,11.8" stroke="#c0c0c0" stroke-width="1" fill="none"/><path d="M11.4,5.6 L11.3,8.2" stroke="#2e2e2e" stroke-width="1.5" fill="none" stroke-linecap="round"/></svg>
<div class="sep" style="top:555px"></div>
<svg class="fl" style="left:27.2px;top:565px" width="21.4" height="16.7" viewBox="0 0 21 17" preserveAspectRatio="none"><defs><linearGradient id="geu" x1="0" y1="0" x2="0" y2="1"><stop offset="0" stop-color="#8a87c0"/><stop offset="0.45" stop-color="#5e5aa8"/><stop offset="0.5" stop-color="#3e3890"/><stop offset="1" stop-color="#2a2474"/></linearGradient></defs><rect width="21" height="17" fill="url(#geu)"/><circle cx="16.10" cy="8.50" r="0.75" fill="#bcb474"/><circle cx="15.35" cy="11.30" r="0.75" fill="#bcb474"/><circle cx="13.30" cy="13.35" r="0.75" fill="#bcb474"/><circle cx="10.50" cy="14.10" r="0.75" fill="#bcb474"/><circle cx="7.70" cy="13.35" r="0.75" fill="#bcb474"/><circle cx="5.65" cy="11.30" r="0.75" fill="#bcb474"/><circle cx="4.90" cy="8.50" r="0.75" fill="#bcb474"/><circle cx="5.65" cy="5.70" r="0.75" fill="#bcb474"/><circle cx="7.70" cy="3.65" r="0.75" fill="#bcb474"/><circle cx="10.50" cy="2.90" r="0.75" fill="#bcb474"/><circle cx="13.30" cy="3.65" r="0.75" fill="#bcb474"/><circle cx="15.35" cy="5.70" r="0.75" fill="#bcb474"/></svg>
<div class="t nm" style="left:68.5px;top:562px">EUR/JPY</div>
<div class="t r" style="left:274px;width:300px;top:563px">179.18</div>
<div class="t r" style="left:494px;width:300px;top:563px">179.29</div>
<div class="t r" style="left:714px;width:300px;top:563px">178.46</div>
<div class="t r grn" style="left:896.3px;width:300px;top:563px">+0.57</div>
<div class="t r" style="left:1091.5px;width:300px;top:563px">06:00:55</div>
<svg class="ck" style="left:1403.2px;top:563.3px" width="20" height="21" viewBox="0 0 20 21"><defs><linearGradient id="ckg" x1="0" y1="0" x2="0" y2="1"><stop offset="0" stop-color="#7cc656"/><stop offset="1" stop-color="#58ac34"/></linearGradient></defs><ellipse cx="10" cy="18.3" rx="6.5" ry="1.3" fill="#000" opacity="0.07"/><circle cx="10" cy="9.5" r="6.9" fill="#fff" stroke="url(#ckg)" stroke-width="3.1"/><path d="M10.2,7.2 L10,11" stroke="#a8a8a8" stroke-width="1.4" fill="none"/><path d="M11.3,8 L11.3,11" stroke="#808080" stroke-width="1.2" fill="none"/><path d="M12,10.8 L13,11.8" stroke="#c0c0c0" stroke-width="1" fill="none"/><path d="M11.4,5.6 L11.3,8.2" stroke="#2e2e2e" stroke-width="1.5" fill="none" stroke-linecap="round"/></svg>
<div class="sep" style="top:591px"></div>
<div class="hl pk" style="top:592px;height:35px"></div>
<svg class="fl" style="left:27.2px;top:601px" width="21.4" height="16.7" viewBox="0 0 21 17" preserveAspectRatio="none"><defs><linearGradient id="geu" x1="0" y1="0" x2="0" y2="1"><stop offset="0" stop-color="#8a87c0"/><stop offset="0.45" stop-color="#5e5aa8"/><stop offset="0.5" stop-color="#3e3890"/><stop offset="1" stop-color="#2a2474"/></linearGradient></defs><rect width="21" height="17" fill="url(#geu)"/><circle cx="16.10" cy="8.50" r="0.75" fill="#bcb474"/><circle cx="15.35" cy="11.30" r="0.75" fill="#bcb474"/><circle cx="13.30" cy="13.35" r="0.75" fill="#bcb474"/><circle cx="10.50" cy="14.10" r="0.75" fill="#bcb474"/><circle cx="7.70" cy="13.35" r="0.75" fill="#bcb474"/><circle cx="5.65" cy="11.30" r="0.75" fill="#bcb474"/><circle cx="4.90" cy="8.50" r="0.75" fill="#bcb474"/><circle cx="5.65" cy="5.70" r="0.75" fill="#bcb474"/><circle cx="7.70" cy="3.65" r="0.75" fill="#bcb474"/><circle cx="10.50" cy="2.90" r="0.75" fill="#bcb474"/><circle cx="13.30" cy="3.65" r="0.75" fill="#bcb474"/><circle cx="15.35" cy="5.70" r="0.75" fill="#bcb474"/></svg>
<div class="t nm" style="left:68.5px;top:599px">EUR/CAD</div>
<div class="t r" style="left:274px;width:300px;top:599px">1.6216</div>
<div class="t r" style="left:494px;width:300px;top:599px">1.6245</div>
<div class="t r" style="left:714px;width:300px;top:599px">1.6214</div>
<div class="t r red" style="left:896.3px;width:300px;top:599px">-0.0021</div>
<div class="t r" style="left:1091.5px;width:300px;top:599px">06:00:55</div>
<svg class="ck" style="left:1403.2px;top:599.3px" width="20" height="21" viewBox="0 0 20 21"><defs><linearGradient id="ckg" x1="0" y1="0" x2="0" y2="1"><stop offset="0" stop-color="#7cc656"/><stop offset="1" stop-color="#58ac34"/></linearGradient></defs><ellipse cx="10" cy="18.3" rx="6.5" ry="1.3" fill="#000" opacity="0.07"/><circle cx="10" cy="9.5" r="6.9" fill="#fff" stroke="url(#ckg)" stroke-width="3.1"/><path d="M10.2,7.2 L10,11" stroke="#a8a8a8" stroke-width="1.4" fill="none"/><path d="M11.3,8 L11.3,11" stroke="#808080" stroke-width="1.2" fill="none"/><path d="M12,10.8 L13,11.8" stroke="#c0c0c0" stroke-width="1" fill="none"/><path d="M11.4,5.6 L11.3,8.2" stroke="#2e2e2e" stroke-width="1.5" fill="none" stroke-linecap="round"/></svg>
<div class="sep" style="top:627px"></div>
<div class="hl pk" style="top:628px;height:35px"></div>
<svg class="fl" style="left:27.2px;top:637px" width="21.4" height="16.7" viewBox="0 0 21 17" preserveAspectRatio="none"><rect width="21" height="17" fill="#32308a"/><path d="M0,0 L21,17 M21,0 L0,17" stroke="#f4eef2" stroke-width="3.6"/><path d="M0,0.6 L10.5,9 M21,0.6 L10.5,9 M0,16.4 L10.5,8 M21,16.4 L10.5,8" stroke="#d87080" stroke-width="0.9"/><rect x="7.3" y="0" width="6.4" height="17" fill="#f6f2f4"/><rect x="0" y="4.8" width="21" height="6.4" fill="#f6f2f4"/><rect x="8.9" y="0" width="3.2" height="17" fill="#c84458"/><rect x="0" y="6.4" width="21" height="3.1" fill="#c84458"/><rect x="0" y="0" width="21" height="8.50" fill="#fff" opacity="0.22"/></svg>
<div class="t nm" style="left:68.5px;top:635px">GBP/CAD</div>
<div class="t r" style="left:274px;width:300px;top:635px">1.8396</div>
<div class="t r" style="left:494px;width:300px;top:635px">1.8447</div>
<div class="t r" style="left:714px;width:300px;top:635px">1.8375</div>
<div class="t r red" style="left:896.3px;width:300px;top:635px">-0.0038</div>
<div class="t r" style="left:1091.5px;width:300px;top:635px">06:00:55</div>
<svg class="ck" style="left:1403.2px;top:635.3px" width="20" height="21" viewBox="0 0 20 21"><defs><linearGradient id="ckg" x1="0" y1="0" x2="0" y2="1"><stop offset="0" stop-color="#7cc656"/><stop offset="1" stop-color="#58ac34"/></linearGradient></defs><ellipse cx="10" cy="18.3" rx="6.5" ry="1.3" fill="#000" opacity="0.07"/><circle cx="10" cy="9.5" r="6.9" fill="#fff" stroke="url(#ckg)" stroke-width="3.1"/><path d="M10.2,7.2 L10,11" stroke="#a8a8a8" stroke-width="1.4" fill="none"/><path d="M11.3,8 L11.3,11" stroke="#808080" stroke-width="1.2" fill="none"/><path d="M12,10.8 L13,11.8" stroke="#c0c0c0" stroke-width="1" fill="none"/><path d="M11.4,5.6 L11.3,8.2" stroke="#2e2e2e" stroke-width="1.5" fill="none" stroke-linecap="round"/></svg>
<div class="sep" style="top:663px"></div>
<svg class="fl" style="left:27.2px;top:673px" width="21.4" height="16.7" viewBox="0 0 21 17" preserveAspectRatio="none"><defs><linearGradient id="gau" x1="0" y1="0" x2="0" y2="1"><stop offset="0" stop-color="#8480bc"/><stop offset="0.45" stop-color="#625eac"/><stop offset="0.5" stop-color="#34298a"/><stop offset="1" stop-color="#2a1f7a"/></linearGradient></defs><rect width="21" height="17" fill="url(#gau)"/><rect width="10.5" height="8.2" fill="#b8b0d8"/><path d="M0,0 L10.5,8.2 M10.5,0 L0,8.2" stroke="#efe6ee" stroke-width="2.2"/><rect x="3.6" y="0" width="3.3" height="8.2" fill="#f0e4ea"/><rect x="0" y="2.6" width="10.5" height="3" fill="#f0e4ea"/><rect x="4.6" y="0" width="1.4" height="8.2" fill="#dc8896"/><rect x="0" y="3.4" width="10.5" height="1.5" fill="#dc8896"/><path d="M5.1,10.6 L5.8,12.3 L7.4,13 L5.8,13.7 L5.1,15.4 L4.4,13.7 L2.8,13 L4.4,12.3 Z" fill="#f2f0fa"/><circle cx="15.9" cy="2.4" r="0.9" fill="#eeecf8"/><circle cx="19" cy="6.3" r="0.9" fill="#eeecf8"/><circle cx="12.9" cy="8.4" r="0.8" fill="#eeecf8"/><circle cx="17.3" cy="9.8" r="0.7" fill="#eeecf8"/><circle cx="15.9" cy="14.2" r="0.9" fill="#eeecf8"/></svg>
<div class="t nm" style="left:68.5px;top:671px">AUD/CAD</div>
<div class="t r" style="left:274px;width:300px;top:671px">0.9156</div>
<div class="t r" style="left:494px;width:300px;top:671px">0.9167</div>
<div class="t r" style="left:714px;width:300px;top:671px">0.9135</div>
<div class="t r grn" style="left:896.3px;width:300px;top:671px">+0.0007</div>
<div class="t r" style="left:1091.5px;width:300px;top:671px">05:59:58</div>
<svg class="ck" style="left:1403.2px;top:671.3px" width="20" height="21" viewBox="0 0 20 21"><defs><linearGradient id="ckg" x1="0" y1="0" x2="0" y2="1"><stop offset="0" stop-color="#7cc656"/><stop offset="1" stop-color="#58ac34"/></linearGradient></defs><ellipse cx="10" cy="18.3" rx="6.5" ry="1.3" fill="#000" opacity="0.07"/><circle cx="10" cy="9.5" r="6.9" fill="#fff" stroke="url(#ckg)" stroke-width="3.1"/><path d="M10.2,7.2 L10,11" stroke="#a8a8a8" stroke-width="1.4" fill="none"/><path d="M11.3,8 L11.3,11" stroke="#808080" stroke-width="1.2" fill="none"/><path d="M12,10.8 L13,11.8" stroke="#c0c0c0" stroke-width="1" fill="none"/><path d="M11.4,5.6 L11.3,8.2" stroke="#2e2e2e" stroke-width="1.5" fill="none" stroke-linecap="round"/></svg>
</body></html>
